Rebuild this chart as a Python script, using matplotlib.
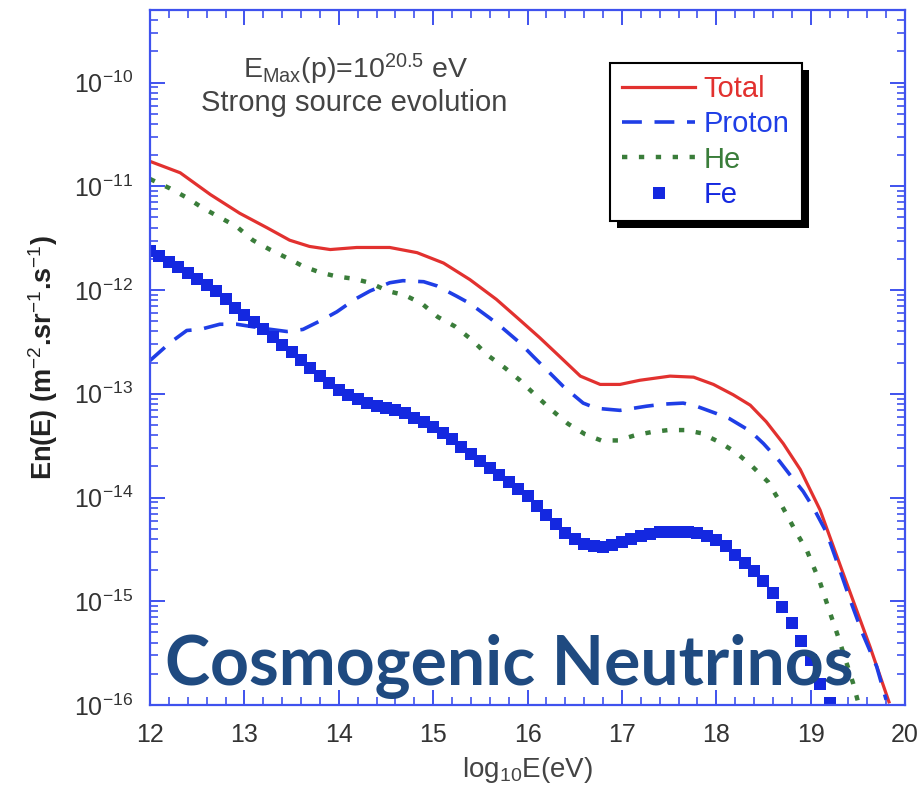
import matplotlib
matplotlib.use("Agg")
import numpy as np
import matplotlib.pyplot as plt
import matplotlib.patheffects as pe
from matplotlib.ticker import FixedLocator, MultipleLocator, NullFormatter

plt.rcParams["font.family"] = ["Liberation Sans", "DejaVu Sans"]
plt.rcParams["mathtext.fontset"] = "custom"
plt.rcParams["mathtext.rm"] = "Liberation Sans"
plt.rcParams["mathtext.it"] = "Liberation Sans"
plt.rcParams["mathtext.bf"] = "Liberation Sans:bold"

# log10 E (eV) and log10 of E n(E) for each component
total_x = [12.00, 12.32, 12.64, 12.95, 13.24, 13.48, 13.69, 13.91, 14.19, 14.54,
           14.83, 15.11, 15.39, 15.67, 15.92, 16.13, 16.34, 16.56, 16.77, 16.98,
           17.19, 17.51, 17.76, 17.97, 18.18, 18.36, 18.53, 18.71, 18.89, 19.10,
           19.38, 19.63, 19.83]
total_y = [-10.76, -10.87, -11.08, -11.26, -11.40, -11.52, -11.58, -11.61, -11.59, -11.59,
           -11.64, -11.74, -11.90, -12.09, -12.29, -12.46, -12.64, -12.83, -12.91, -12.91,
           -12.87, -12.83, -12.84, -12.91, -13.01, -13.11, -13.27, -13.48, -13.73, -14.12,
           -14.82, -15.44, -15.97]

proton_x = [12.00, 12.21, 12.39, 12.53, 12.74, 12.92, 13.20, 13.45, 13.62, 13.82,
            13.98, 14.17, 14.33, 14.54, 14.68, 14.90, 15.04, 15.25, 15.39, 15.60,
            15.74, 15.92, 16.06, 16.27, 16.38, 16.59, 16.73, 16.98, 17.26, 17.44,
            17.65, 17.79, 18.00, 18.14, 18.36, 18.50, 18.67, 18.78, 18.92, 19.03,
            19.17, 19.31, 19.42, 19.55, 19.70, 19.80]
proton_y = [-12.68, -12.51, -12.39, -12.38, -12.33, -12.33, -12.37, -12.40, -12.38, -12.29,
            -12.21, -12.09, -12.01, -11.93, -11.91, -11.92, -11.96, -12.06, -12.13, -12.27,
            -12.37, -12.51, -12.64, -12.83, -12.93, -13.09, -13.14, -13.16, -13.12, -13.10,
            -13.09, -13.12, -13.19, -13.24, -13.36, -13.48, -13.65, -13.78, -13.94, -14.10,
            -14.34, -14.70, -14.99, -15.31, -15.63, -15.95]

he_x = [12.00, 12.21, 12.39, 12.56, 12.74, 12.92, 13.09, 13.27, 13.45, 13.62,
        13.80, 13.98, 14.15, 14.33, 14.52, 14.70, 14.88, 15.05, 15.23, 15.41,
        15.58, 15.76, 15.92, 16.08, 16.26, 16.43, 16.61, 16.78, 16.96, 17.14,
        17.31, 17.49, 17.67, 17.84, 18.02, 18.20, 18.37, 18.55, 18.66, 18.85,
        18.96, 19.10, 19.22, 19.28, 19.45, 19.52]
he_y = [-10.93, -11.02, -11.11, -11.21, -11.30, -11.39, -11.52, -11.61, -11.69, -11.77,
        -11.83, -11.87, -11.89, -11.93, -12.01, -12.05, -12.13, -12.26, -12.35, -12.48,
        -12.63, -12.75, -12.87, -13.01, -13.16, -13.29, -13.39, -13.45, -13.45, -13.40,
        -13.37, -13.35, -13.35, -13.38, -13.46, -13.56, -13.69, -13.85, -14.02, -14.34,
        -14.51, -14.82, -15.15, -15.31, -15.79, -16.03]

fe_x = np.round(np.arange(12.0, 19.25, 0.1), 1)
fe_y = [-11.62, -11.67, -11.73, -11.78, -11.84, -11.89, -11.95, -12.01, -12.09, -12.17,
        -12.24, -12.31, -12.38, -12.45, -12.53, -12.60, -12.67, -12.75, -12.83, -12.90,
        -12.96, -13.01, -13.05, -13.09, -13.12, -13.14, -13.16, -13.19, -13.23, -13.27,
        -13.32, -13.38, -13.44, -13.51, -13.58, -13.65, -13.72, -13.78, -13.85, -13.92,
        -13.99, -14.08, -14.17, -14.26, -14.34, -14.40, -14.45, -14.47, -14.48, -14.46,
        -14.43, -14.40, -14.37, -14.35, -14.33, -14.33, -14.33, -14.33, -14.34, -14.37,
        -14.41, -14.47, -14.55, -14.63, -14.71, -14.80, -14.92, -15.06, -15.21, -15.38,
        -15.57, -15.80, -15.98]

labels = ["Total", "Proton", "He", "Fe"]
y_major = [1e-16, 1e-15, 1e-14, 1e-13, 1e-12, 1e-11, 1e-10]

red = "#e2312f"
blue = "#1f3ee6"
green = "#3a7d3a"
fe_blue = "#1428e0"
axis_blue = "#3f52ee"
text_gray = "#333333"

fig = plt.figure(figsize=(9.21, 7.96), dpi=100)
ax = fig.add_axes([150 / 921, 91 / 796, 755 / 921, 695 / 796])

ax.plot(total_x, 10 ** np.array(total_y), color=red, lw=2.3, label=labels[0])
ax.plot(proton_x, 10 ** np.array(proton_y), color=blue, lw=2.6,
        linestyle=(0, (5.5, 3.5)), label=labels[1])
ax.plot(he_x, 10 ** np.array(he_y), color=green, lw=3.2,
        linestyle=(0, (1.2, 2.6)), label=labels[2])
ax.plot(fe_x, 10 ** np.array(fe_y), linestyle="none", marker="s", ms=8.6,
        mew=0, color=fe_blue, label=labels[3])

ax.set_yscale("log")
ax.set_xlim(12, 20)
ax.set_ylim(1e-16, 5e-10)

ax.xaxis.set_major_locator(MultipleLocator(1))
ax.xaxis.set_minor_locator(MultipleLocator(0.2))
ax.yaxis.set_major_locator(FixedLocator(y_major))
y_minor = [m * d for d in y_major for m in range(2, 10) if m * d < 5e-10]
ax.yaxis.set_minor_locator(FixedLocator(y_minor))
ax.yaxis.set_minor_formatter(NullFormatter())

for side in ax.spines.values():
    side.set_color(axis_blue)
    side.set_linewidth(1.6)
ax.tick_params(which="both", direction="in", top=True, right=True,
               color=axis_blue, labelcolor=text_gray, labelsize=18)
ax.tick_params(which="major", length=11, width=1.4)
ax.tick_params(which="minor", length=6, width=1.2)
ax.tick_params(axis="x", which="major", pad=13)
ax.tick_params(axis="y", which="major", pad=12)

ax.set_xlabel(r"log$_{10}$E(eV)", fontsize=20, color="#444444", labelpad=6)
ax.set_ylabel(r"En(E) (m$^{-2}$.sr$^{-1}$.s$^{-1}$)", fontsize=19.5,
              fontweight="bold", color="#222222", labelpad=10)

ax.text(0.273, 0.914, r"E$_{\mathregular{Max}}$(p)=10$^{\mathregular{20.5}}$ eV",
        transform=ax.transAxes, ha="center", va="center", fontsize=20.5, color="#444444")
ax.text(0.270, 0.866, "Strong source evolution", transform=ax.transAxes,
        ha="center", va="center", fontsize=21, color="#444444")

leg = ax.legend(loc="upper left", bbox_to_anchor=(0.609, 0.924), borderaxespad=0,
                fontsize=21, frameon=True, fancybox=False, framealpha=1,
                edgecolor="black", handlelength=2.5, handletextpad=0.3,
                labelspacing=0.25, borderpad=0.42, numpoints=1)
for txt, c in zip(leg.get_texts(), [red, blue, green, fe_blue]):
    txt.set_color(c)
frame = leg.get_frame()
frame.set_linewidth(1.5)
frame.set_path_effects([pe.SimplePatchShadow(offset=(5, -5), shadow_rgbFace="black", alpha=1.0),
                        pe.Normal()])

fig.text(0.553, 0.139, "Cosmogenic Neutrinos", ha="center", va="baseline",
         fontsize=49, fontweight="bold", family="Lato", color="#1f4a80", zorder=10)

fig.savefig("out.png", dpi=100)
